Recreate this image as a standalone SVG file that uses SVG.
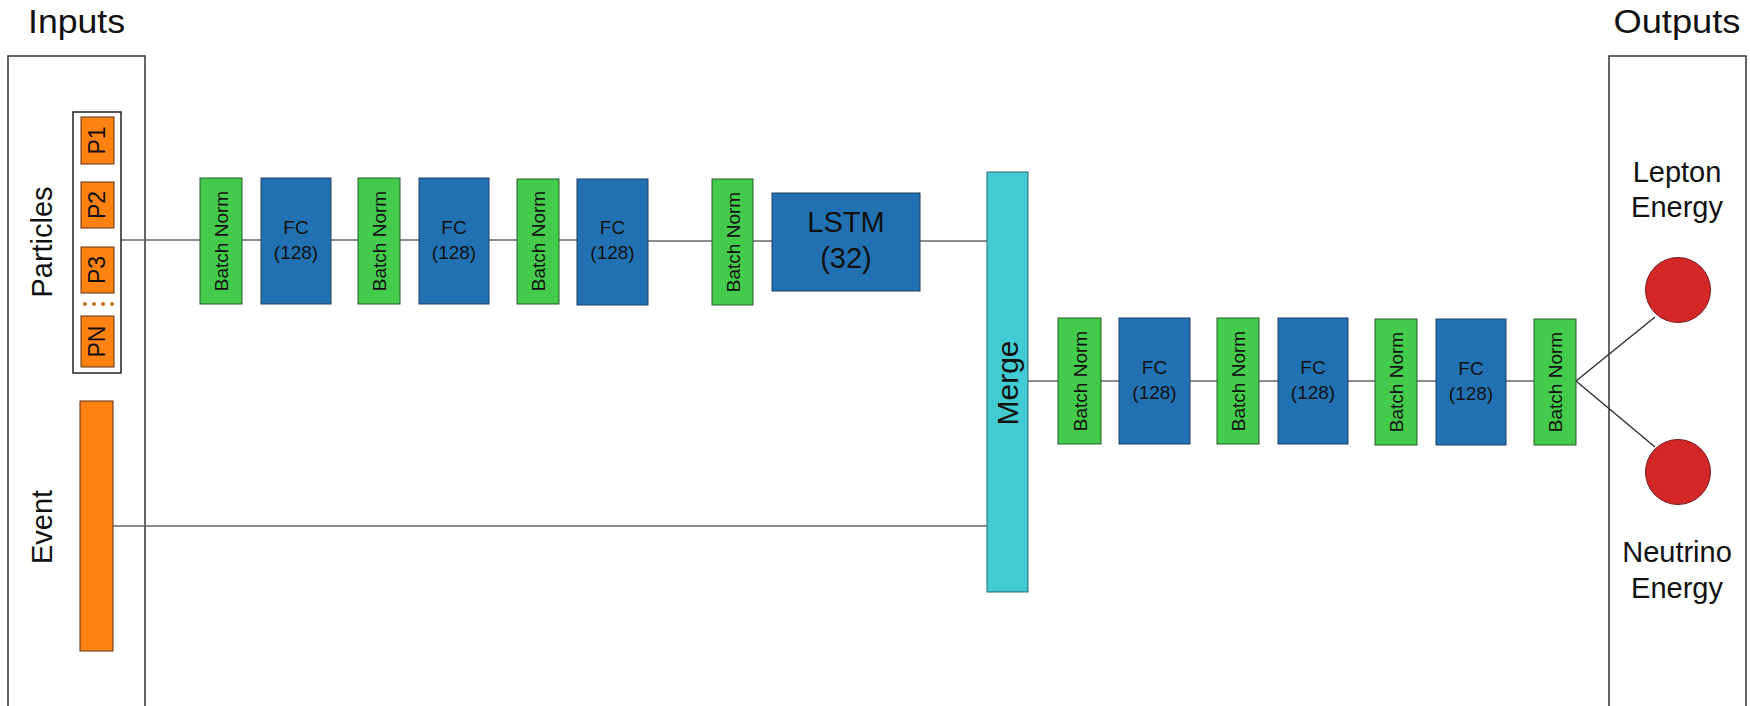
<svg xmlns="http://www.w3.org/2000/svg" width="1750" height="706" viewBox="0 0 1750 706">
<style>
text{font-family:"Liberation Sans",Arial,sans-serif;fill:#111}
.frame{fill:none;stroke:#333;stroke-width:1.5}
.bn{fill:#44cb4c;stroke:#2a5a2a;stroke-width:1}
.fc{fill:#2272b3;stroke:#1f3f66;stroke-width:1}
.or{fill:#ff8213;stroke:#5a3010;stroke-width:1}
.mg{fill:#42cbd2;stroke:#2a6a70;stroke-width:1}
.out{fill:#d42828;stroke:#7a1a1a;stroke-width:1}
.bt{font-size:19px;text-anchor:middle}
.ft{font-size:19px;text-anchor:middle}
.big{font-size:29px;text-anchor:middle}
.pl{font-size:23px;text-anchor:middle}
.ttl{font-size:33px;text-anchor:middle}
.conn line{stroke:#666;stroke-width:1.5}
.dot{fill:#c8701a}
</style>

<g id="inputs-title"><text class="ttl" x="76.5" y="33" textLength="97" lengthAdjust="spacingAndGlyphs">Inputs</text></g>
<g id="outputs-title"><text class="ttl" x="1677" y="33" textLength="127" lengthAdjust="spacingAndGlyphs">Outputs</text></g>

<g id="inputs-box"><rect class="frame" x="8" y="56" width="137" height="670"/></g>
<g id="outputs-box"><rect class="frame" x="1609" y="56" width="137" height="670"/></g>

<g class="conn" id="connectors">
<line x1="121" y1="240" x2="200" y2="240"/>
<line x1="242" y1="240" x2="261" y2="240"/>
<line x1="331" y1="240" x2="358" y2="240"/>
<line x1="400" y1="240" x2="419" y2="240"/>
<line x1="489" y1="240" x2="517" y2="240"/>
<line x1="559" y1="240" x2="577" y2="240"/>
<line x1="648" y1="241" x2="712" y2="241"/>
<line x1="753" y1="241" x2="772" y2="241"/>
<line x1="920" y1="241" x2="987" y2="241"/>
<line x1="113" y1="526" x2="987" y2="526"/>
<line x1="1028" y1="381" x2="1058" y2="381"/>
<line x1="1101" y1="381" x2="1119" y2="381"/>
<line x1="1190" y1="381" x2="1217" y2="381"/>
<line x1="1259" y1="381" x2="1278" y2="381"/>
<line x1="1348" y1="381" x2="1375" y2="381"/>
<line x1="1417" y1="381" x2="1436" y2="381"/>
<line x1="1506" y1="381" x2="1534" y2="381"/>
<line x1="1576" y1="381" x2="1655" y2="317" style="stroke:#333"/>
<line x1="1576" y1="381" x2="1655" y2="447" style="stroke:#333"/>
</g>

<g id="particles">
<text class="big" transform="translate(52,242) rotate(-90)">Particles</text>
<rect x="73" y="112" width="48" height="261" fill="none" stroke="#222" stroke-width="1.5"/>
<rect class="or" x="81" y="117" width="33" height="47"/>
<text class="pl" transform="translate(105,140.5) rotate(-90)">P1</text>
<rect class="or" x="81" y="182" width="33" height="46"/>
<text class="pl" transform="translate(105,205) rotate(-90)">P2</text>
<rect class="or" x="81" y="247" width="33" height="46"/>
<text class="pl" transform="translate(105,270) rotate(-90)">P3</text>
<circle class="dot" cx="85" cy="304" r="2"/><circle class="dot" cx="94" cy="304" r="2"/><circle class="dot" cx="103" cy="304" r="2"/><circle class="dot" cx="112" cy="304" r="2"/>
<rect class="or" x="81" y="316" width="33" height="51"/>
<text class="pl" transform="translate(105,341.5) rotate(-90)">PN</text>
</g>

<g id="event">
<text class="big" transform="translate(52,527) rotate(-90)">Event</text>
<rect class="or" x="80" y="401" width="33" height="250"/>
</g>

<g id="bn1"><rect class="bn" x="200" y="178" width="42" height="126"/><text class="bt" transform="translate(228,241) rotate(-90)">Batch Norm</text></g>
<g id="fc1"><rect class="fc" x="261" y="178" width="70" height="126"/><text class="ft" x="296" y="234">FC</text><text class="ft" x="296" y="259">(128)</text></g>
<g id="bn2"><rect class="bn" x="358" y="178" width="42" height="126"/><text class="bt" transform="translate(386,241) rotate(-90)">Batch Norm</text></g>
<g id="fc2"><rect class="fc" x="419" y="178" width="70" height="126"/><text class="ft" x="454" y="234">FC</text><text class="ft" x="454" y="259">(128)</text></g>
<g id="bn3"><rect class="bn" x="517" y="179" width="42" height="125"/><text class="bt" transform="translate(545,241) rotate(-90)">Batch Norm</text></g>
<g id="fc3"><rect class="fc" x="577" y="179" width="71" height="126"/><text class="ft" x="612.5" y="234">FC</text><text class="ft" x="612.5" y="259">(128)</text></g>
<g id="bn4"><rect class="bn" x="712" y="179" width="41" height="126"/><text class="bt" transform="translate(739.5,242) rotate(-90)">Batch Norm</text></g>
<g id="lstm"><rect class="fc" x="772" y="193" width="148" height="98"/><text class="big" x="846" y="232">LSTM</text><text class="big" x="846" y="268">(32)</text></g>

<g id="merge"><rect class="mg" x="987" y="172" width="41" height="420"/><text class="big" style="font-size:30px" transform="translate(1018,383) rotate(-90)">Merge</text></g>

<g id="bn5"><rect class="bn" x="1058" y="318" width="43" height="126"/><text class="bt" transform="translate(1086.5,381) rotate(-90)">Batch Norm</text></g>
<g id="fc4"><rect class="fc" x="1119" y="318" width="71" height="126"/><text class="ft" x="1154.5" y="374">FC</text><text class="ft" x="1154.5" y="399">(128)</text></g>
<g id="bn6"><rect class="bn" x="1217" y="318" width="42" height="126"/><text class="bt" transform="translate(1245,381) rotate(-90)">Batch Norm</text></g>
<g id="fc5"><rect class="fc" x="1278" y="318" width="70" height="126"/><text class="ft" x="1313" y="374">FC</text><text class="ft" x="1313" y="399">(128)</text></g>
<g id="bn7"><rect class="bn" x="1375" y="319" width="42" height="126"/><text class="bt" transform="translate(1403,382) rotate(-90)">Batch Norm</text></g>
<g id="fc6"><rect class="fc" x="1436" y="319" width="70" height="126"/><text class="ft" x="1471" y="375">FC</text><text class="ft" x="1471" y="400">(128)</text></g>
<g id="bn8"><rect class="bn" x="1534" y="319" width="42" height="126"/><text class="bt" transform="translate(1562,382) rotate(-90)">Batch Norm</text></g>

<g id="lepton"><text class="big" x="1677" y="182">Lepton</text><text class="big" x="1677" y="217">Energy</text><circle class="out" cx="1678" cy="290" r="32.5"/></g>
<g id="neutrino"><circle class="out" cx="1678" cy="472" r="32.5"/><text class="big" x="1677" y="562">Neutrino</text><text class="big" x="1677" y="598">Energy</text></g>
</svg>
